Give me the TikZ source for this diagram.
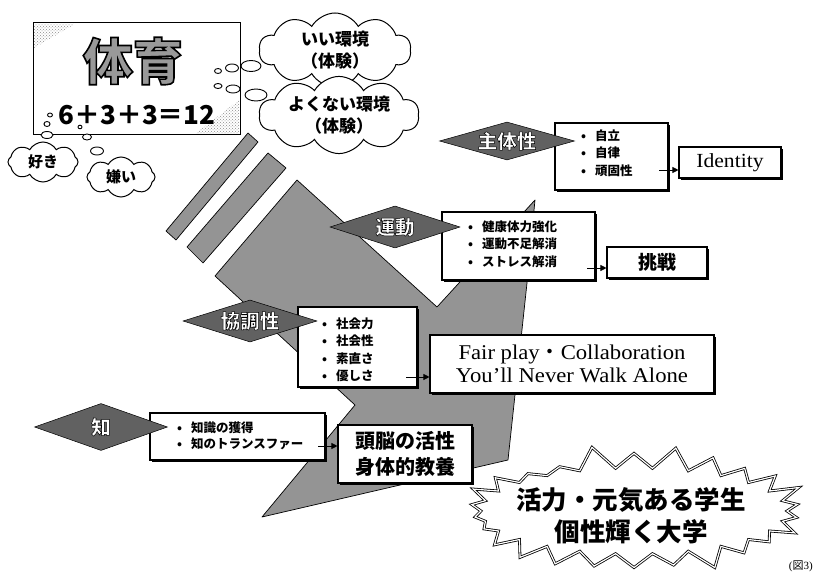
\documentclass[tikz,border=0pt]{standalone}
\usepackage{fontspec}
\setmainfont{Liberation Serif}
\newfontfamily\cjk{Noto Sans CJK JP}
\newfontfamily\serifw{Liberation Serif}[FakeStretch=1.08]
\usetikzlibrary{shapes.geometric,shapes.symbols,arrows.meta,shadows,patterns}
\newcommand\StrokeTxt[3][1]{\textcolor{#2}{\special{pdf:literal 2 Tr #1 w 0 G}#3\special{pdf:literal 0 Tr}}}
\begin{document}
\begin{tikzpicture}[x=1pt,y=-1pt,
  body/.style={fill=black!42, draw=black, line width=0.7pt, line join=round},
  dia/.style={diamond, draw=black, line width=0.5pt, fill=black!62, inner sep=0pt, aspect=3},
  listbox/.style={rectangle, draw=black, line width=1.1pt, fill=white, inner sep=0pt, drop shadow={shadow xshift=1.6pt, shadow yshift=-1.6pt, fill=black, opacity=1}},
  lst/.style={anchor=west, align=left, inner sep=0pt, font=\fontsize{12.5}{17.5}\selectfont\cjk\bfseries},
  diatxt/.style={font=\fontsize{19.5}{19.5}\selectfont\cjk\bfseries, inner sep=0pt},
  arr/.style={line width=0.8pt, -{Triangle[length=6pt,width=6pt]}},
  thought/.style={cloud, cloud puffs=10, cloud puff arc=120, cloud ignores aspect, draw=black, line width=1pt, fill=white, inner sep=0pt, align=center},
  bubble/.style={draw=black, line width=0.9pt, fill=white}]
\useasboundingbox (0,0) rectangle (814,580);

% stripes and big gray body
\fill[body] (248,133) -- (258,142) -- (176,240) -- (166,231) -- cycle;
\fill[body] (268,153) -- (286,168) -- (203,263) -- (187,247) -- cycle;
\fill[body] (297,180) -- (437,307) -- (535,200) -- (527,283) -- (508,460) -- (262,517) -- (355,405) -- (215,276) -- cycle;

% title box
\node[draw=black, line width=1pt, fill=white, minimum width=207pt, minimum height=112pt, inner sep=0pt] (pe) at (136.5,79) {};
\fill[pattern=crosshatch dots, pattern color=black!45] (34,24) -- (75,24) -- (34,48) -- cycle;
\fill[pattern=crosshatch dots, pattern color=black!45] (239,134) -- (239,100) -- (195,134) -- cycle;
\node[font=\fontsize{50}{50}\selectfont\cjk\bfseries, inner sep=0pt] (peT) at (133,61) {\StrokeTxt[1.6]{black!40}{体育}};
\node[font=\fontsize{26}{26}\selectfont\cjk\bfseries, inner sep=0pt] (peN) at (137,115) {6＋3＋3＝12};

% thought bubbles
\draw[bubble] (218,71) ellipse (3.5 and 2.5);
\draw[bubble] (232,68) ellipse (6.5 and 4);
\draw[bubble] (251,66) ellipse (10 and 5.5);
\draw[bubble] (218,86) ellipse (4 and 2.5);
\draw[bubble] (233,89) ellipse (7 and 4);
\draw[bubble] (256,95) ellipse (11 and 6);
\draw[bubble] (50,115) ellipse (2.5 and 2);
\draw[bubble] (47,124) ellipse (3 and 2.5);
\draw[bubble] (47,135) ellipse (6 and 3.5);
\draw[bubble] (80,127) ellipse (2 and 1.8);
\draw[bubble] (87,137) ellipse (4.5 and 3);
\draw[bubble] (97,151) ellipse (6.5 and 4);

% clouds
\node[thought, minimum width=152pt, minimum height=74pt, font=\fontsize{17}{22}\selectfont\cjk\bfseries] (good) at (335,50) {いい環境\\（体験）};
\node[thought, minimum width=160pt, minimum height=64pt, font=\fontsize{17}{22}\selectfont\cjk\bfseries] (bad) at (339,115) {よくない環境\\（体験）};
\node[thought, cloud puffs=8, minimum width=70pt, minimum height=40pt, font=\fontsize{15}{15}\selectfont\cjk\bfseries] (like) at (43,162) {好き};
\node[thought, cloud puffs=8, minimum width=68pt, minimum height=40pt, font=\fontsize{15}{15}\selectfont\cjk\bfseries] (dislike) at (121,177) {嫌い};

% 主体性
\node[listbox, minimum width=113pt, minimum height=67pt] (zbox) at (611.5,156.5) {};
\node[lst] (zlist) at (581,153) {•\hspace{9pt}自立\\•\hspace{9pt}自律\\•\hspace{9pt}頑固性};
\coordinate (zout) at (659,170);
\node[listbox, minimum width=102pt, minimum height=31pt, font=\fontsize{20}{20}\selectfont\serifw] (idb) at (730,162.5) {Identity};
\draw[arr] (zout) -- (zout -| idb.west);
\node[dia, minimum width=135pt, minimum height=38pt] (zdia) at (507,141) {};
\node[diatxt] (zdiaT) at (zdia.center) {\StrokeTxt[0.5]{white}{主体性}};

% 運動
\node[listbox, minimum width=153pt, minimum height=68pt] (ubox) at (518.5,246) {};
\node[lst] (ulist) at (468,244) {•\hspace{9pt}健康体力強化\\•\hspace{9pt}運動不足解消\\•\hspace{9pt}ストレス解消};
\coordinate (uout) at (587,268);
\node[listbox, minimum width=100pt, minimum height=31pt, font=\fontsize{19}{19}\selectfont\cjk\bfseries] (chal) at (657,262.5) {挑戦};
\draw[arr] (uout) -- (uout -| chal.west);
\node[dia, minimum width=130pt, minimum height=42pt] (udia) at (395,227) {};
\node[diatxt] (udiaT) at (udia.center) {\StrokeTxt[0.5]{white}{運動}};

% 協調性
\node[listbox, minimum width=119pt, minimum height=80pt] (kbox) at (357.5,347) {};
\node[lst] (klist) at (322,350) {•\hspace{9pt}社会力\\•\hspace{9pt}社会性\\•\hspace{9pt}素直さ\\•\hspace{9pt}優しさ};
\coordinate (kout) at (406,377);
\node[listbox, minimum width=284pt, minimum height=58pt, align=center, font=\fontsize{21}{23}\selectfont\serifw] (fair) at (572,364) {Fair play{\cjk ・}Collaboration\\You’ll Never Walk Alone};
\draw[arr] (kout) -- (kout -| fair.west);
\node[dia, minimum width=134pt, minimum height=42pt] (kdia) at (250,321) {};
\node[diatxt] (kdiaT) at (kdia.center) {\StrokeTxt[0.5]{white}{協調性}};

% 知
\node[listbox, minimum width=175pt, minimum height=47pt] (cbox) at (237.5,436.5) {};
\node[lst, font=\fontsize{12.5}{16}\selectfont\cjk\bfseries] (clist) at (177,436) {•\hspace{9pt}知識の獲得\\•\hspace{9pt}知のトランスファー};
\coordinate (cout) at (318,446);
\node[listbox, minimum width=134pt, minimum height=58pt, align=center, font=\fontsize{20}{26}\selectfont\cjk\bfseries] (brain) at (405,454) {頭脳の活性\\身体的教養};
\draw[arr] (cout) -- (cout -| brain.west);
\node[dia, minimum width=133pt, minimum height=47pt] (cdia) at (101,427) {};
\node[diatxt] (cdiaT) at (cdia.center) {\StrokeTxt[0.5]{white}{知}};

% starburst
\node[starburst, starburst points=26, starburst point height=24pt, random starburst=5, draw=black, line width=0.8pt, double=white, double distance=1.2pt, fill=white, minimum width=354pt, minimum height=134pt] (star) at (634,511) {};
\node[align=center, inner sep=0pt, font=\fontsize{25.5}{32}\selectfont\cjk\bfseries] (starT) at (631,516) {活力・元気ある学生\\個性輝く大学};

\node[anchor=east, inner sep=0pt, font=\fontsize{11}{11}\selectfont] (fig) at (813,566) {({\cjk 図}3)};
\end{tikzpicture}
\end{document}
